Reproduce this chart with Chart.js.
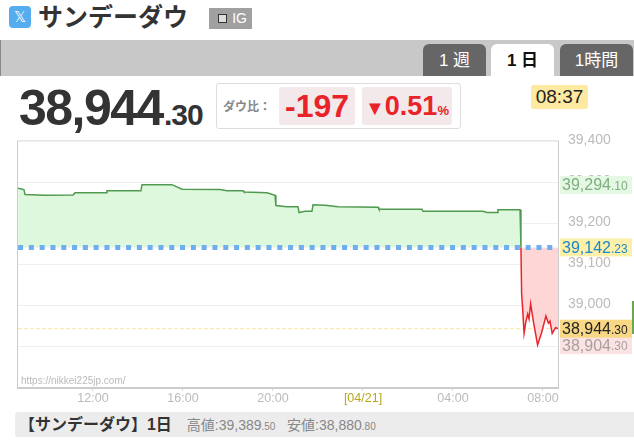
<!DOCTYPE html>
<html>
<head>
<meta charset="utf-8">
<script src="https://cdn.jsdelivr.net/npm/chart.js@4"></script>
<style>
html, body { margin: 0; padding: 0; background: #fff; }
body { width: 634px; height: 440px; position: relative; overflow: hidden; font-family: "Liberation Sans", "Noto Sans CJK JP", sans-serif; color: #333; }
#wrap { position: absolute; left: 0; top: 130px; width: 634px; height: 280px; }
#chart { display: block; }
.abs { position: absolute; white-space: nowrap; }
#xicon { left: 9px; top: 6px; width: 22px; height: 22px; background: #55acee; border-radius: 4px; color: #fff; font-size: 15px; line-height: 22px; text-align: center; }
#title { left: 38px; top: 0; font-size: 25px; line-height: 34px; font-weight: bold; color: #333; }
#ig { left: 209px; top: 8px; width: 43px; height: 21px; background: #a0a0a0; color: #fff; font-size: 14px; line-height: 21px; text-align: right; box-sizing: border-box; padding-right: 5px; }
#ig i { position: absolute; left: 9px; top: 6px; width: 7px; height: 7px; border: 1px solid #333; background: #ddd; }
#bar { left: 0; top: 40px; width: 634px; height: 36px; background: #c8c8c8; border-left: 1px solid #888; box-sizing: border-box; }
.tab { top: 44px; height: 32px; border-radius: 6px 6px 0 0; background: #666; color: #fff; font-size: 17px; line-height: 33px; text-align: center; }
#price { left: 19px; top: 78px; font-size: 50px; line-height: 60px; font-weight: bold; letter-spacing: -1.5px; color: #333; }
#price small { font-size: 30px; letter-spacing: -1px; margin-left: 1px; }
#box { left: 216px; top: 83px; width: 245px; height: 46px; border: 1px solid #ddd; border-radius: 3px; box-sizing: border-box; }
.chip { top: 87px; height: 38px; background: #f3e8ea; border-radius: 3px; color: #e8232a; font-weight: bold; font-size: 32px; line-height: 38px; text-align: center; }
#dow { left: 223px; top: 97px; font-size: 12px; color: #888; font-weight: bold; }
#time { left: 531px; top: 85px; width: 57px; height: 24px; background: #fdeaa0; border-radius: 3px; font-size: 19px; line-height: 24px; text-align: center; color: #222; }
#foot { left: 15px; top: 412px; width: 619px; height: 25px; background: #ececec; border-radius: 3px 0 0 3px; line-height: 25px; font-size: 14px; color: #888; }
#foot b { color: #333; font-size: 16px; margin-right: 15px; }
#foot small { font-size: 10px; }
#edge { left: 632px; top: 301px; width: 2px; height: 33px; background: #6aa84f; }
</style>
</head>
<body>
<div class="abs" id="xicon">𝕏</div>
<div class="abs" id="title">サンデーダウ</div>
<div class="abs" id="ig"><i></i>IG</div>
<div class="abs" id="bar"></div>
<div class="abs tab" style="left:423px;width:63px">1 週</div>
<div class="abs tab" style="left:491px;width:63px;background:#fff;color:#111;font-weight:bold">1 日</div>
<div class="abs tab" style="left:560px;width:73px">1時間</div>
<div class="abs" id="price">38,944<small>.30</small></div>
<div class="abs" id="box"></div>
<div class="abs" id="dow">ダウ比：</div>
<div class="abs chip" style="left:279px;width:76px">-197</div>
<div class="abs chip" style="left:362px;width:90px;font-size:27px"><span style="font-size:20px">▼</span>0.51<small style="font-size:13px">%</small></div>
<div class="abs" id="time">08:37</div>
<div id="wrap"><canvas id="chart" width="634" height="280"></canvas></div>
<div class="abs" id="edge"></div>
<div class="abs" id="foot">&nbsp;<b>【サンデーダウ】1日</b>高値:39,389<small>.50</small>&nbsp;&nbsp;&nbsp;安値:38,880<small>.80</small></div>

<script>
// hours since midnight of the previous day
const hours = [8.67, 8.93, 8.98, 9.87, 11.11, 11.2, 12.58, 12.62, 14.13, 14.18, 15.51, 15.96, 17.64, 17.96, 18.67, 18.71, 19.73, 20.09, 20.13, 20.62, 21.11, 21.16, 21.42, 21.73, 21.78, 22.31, 22.89, 24.67, 24.71, 26.62, 26.67, 29.33, 29.51, 29.96, 30.0, 30.98, 31.02, 31.05, 31.09, 31.16, 31.24, 31.32, 31.38, 31.45, 31.57, 31.76, 31.94, 32.13, 32.24, 32.31, 32.41, 32.56, 32.67];
const prices = [39286, 39283, 39271, 39269, 39270, 39275, 39275, 39280, 39280, 39295, 39295, 39284, 39283, 39280, 39280, 39277, 39275, 39269, 39244, 39241, 39241, 39227, 39230, 39230, 39246, 39245, 39241, 39240, 39235, 39235, 39230, 39230, 39227, 39227, 39234, 39234, 39142.23, 39030, 38998, 38933, 38962, 38980, 38968, 39005, 38963, 38905, 38935, 38975, 38958, 38963, 38933, 38947, 38944.3];
const baseClose = 39142.23;
const lastPrice = 38944.3;
const yTicks = [39400, 39300, 39200, 39100, 39000, 38900, 38800];
const xTicks = [12, 16, 20, 24, 28, 32];
const xLabels = ['12:00', '16:00', '20:00', '[04/21]', '04:00', '08:00'];
const sideLabels = [
  { value: 39294.10, main: '39,294', dec: '.10', color: '#7fae7f', bg: '#e4f8e4' },
  { value: 38904.30, main: '38,904', dec: '.30', color: '#a8a0a0', bg: '#fbe3e3' },
  { value: baseClose, main: '39,142', dec: '.23', color: '#1e88c8', bg: '#fdf0a8' },
  { value: lastPrice, main: '38,944', dec: '.30', color: '#222', bg: '#f8d884' }
];

const points = hours.map((h, i) => ({ x: h, y: prices[i] }));

const sidePlugin = {
  id: 'sidePlugin',
  afterDraw(chart) {
    const { ctx, chartArea, scales } = chart;
    ctx.save();
    ctx.textBaseline = 'middle';
    sideLabels.forEach(l => {
      const y = scales.y.getPixelForValue(l.value);
      ctx.fillStyle = l.bg;
      ctx.fillRect(chartArea.right + 2, y - 9, 72, 18);
      ctx.font = '16px "Liberation Sans"';
      ctx.fillStyle = l.color;
      ctx.textAlign = 'left';
      ctx.fillText(l.main, chartArea.right + 4, y + 1);
      const w = ctx.measureText(l.main).width;
      ctx.font = '12px "Liberation Sans"';
      ctx.fillText(l.dec, chartArea.right + 4 + w, y + 2);
    });
    ctx.font = '10px "Liberation Sans"';
    ctx.fillStyle = '#bbb';
    ctx.textAlign = 'left';
    ctx.fillText('https://nikkei225jp.com/', chartArea.left + 3, chartArea.bottom - 7);
    ctx.restore();
  }
};

new Chart(document.getElementById('chart'), {
  type: 'line',
  data: {
    datasets: [
      {
        data: hours.map(h => ({ x: h, y: lastPrice })),
        borderColor: '#f8e4a0',
        borderWidth: 1,
        borderDash: [4, 2],
        pointRadius: 0,
        order: 3
      },
      {
        data: points,
        borderWidth: 1.5,
        pointRadius: 0,
        tension: 0,
        fill: { target: { value: baseClose }, above: '#ddf8dd', below: '#ffd6d6' },
        segment: { borderColor: c => c.p1.parsed.y < baseClose ? '#e8262a' : '#4f9a4f' },
        borderColor: '#4f9a4f',
        order: 2
      },
      {
        data: hours.map(h => ({ x: h, y: baseClose })),
        borderColor: '#6caef0',
        borderWidth: 5,
        borderDash: [5, 5.8],
        pointRadius: 0,
        order: 1
      }
    ]
  },
  options: {
    responsive: false,
    animation: false,
    layout: { padding: { left: 18, top: 10 } },
    plugins: { legend: { display: false }, tooltip: { enabled: false } },
    scales: {
      x: {
        type: 'linear',
        min: 8.667,
        max: 32.667,
        afterBuildTicks: axis => { axis.ticks = xTicks.map(v => ({ value: v })); },
        afterFit: axis => { axis.height = 22; },
        grid: { display: true, drawOnChartArea: false, color: '#ddd', tickLength: 3 },
        border: { color: '#ccc', width: 2 },
        ticks: {
          autoSkip: false,
          maxRotation: 0,
          padding: 0,
          font: { family: 'Liberation Sans', size: 12.5 },
          color: c => c.tick.value === 24 ? '#b8a820' : '#bbb',
          callback: v => xLabels[xTicks.indexOf(v)]
        }
      },
      y: {
        position: 'right',
        min: 38800,
        max: 39400,
        afterBuildTicks: axis => { axis.ticks = yTicks.map(v => ({ value: v })); },
        afterFit: axis => { axis.width = 76; },
        grid: { color: '#efefef', drawTicks: false },
        border: { color: '#ccc' },
        ticks: {
          padding: 10,
          font: { family: 'Liberation Sans', size: 14, lineHeight: '3px' },
          color: '#bbb',
          // blank second line nudges the label up a little, as in the original
          callback: v => v === 38800 ? '' : [v.toLocaleString('en-US'), '']
        }
      }
    }
  },
  plugins: [sidePlugin, {
    id: 'frame',
    beforeDraw(chart) {
      const { ctx, chartArea: a } = chart;
      ctx.save();
      ctx.strokeStyle = '#ccc';
      ctx.strokeRect(a.left - 0.5, a.top - 0.5, a.right - a.left + 1, a.bottom - a.top + 1);
      ctx.restore();
    }
  }]
});
</script>
</body>
</html>
